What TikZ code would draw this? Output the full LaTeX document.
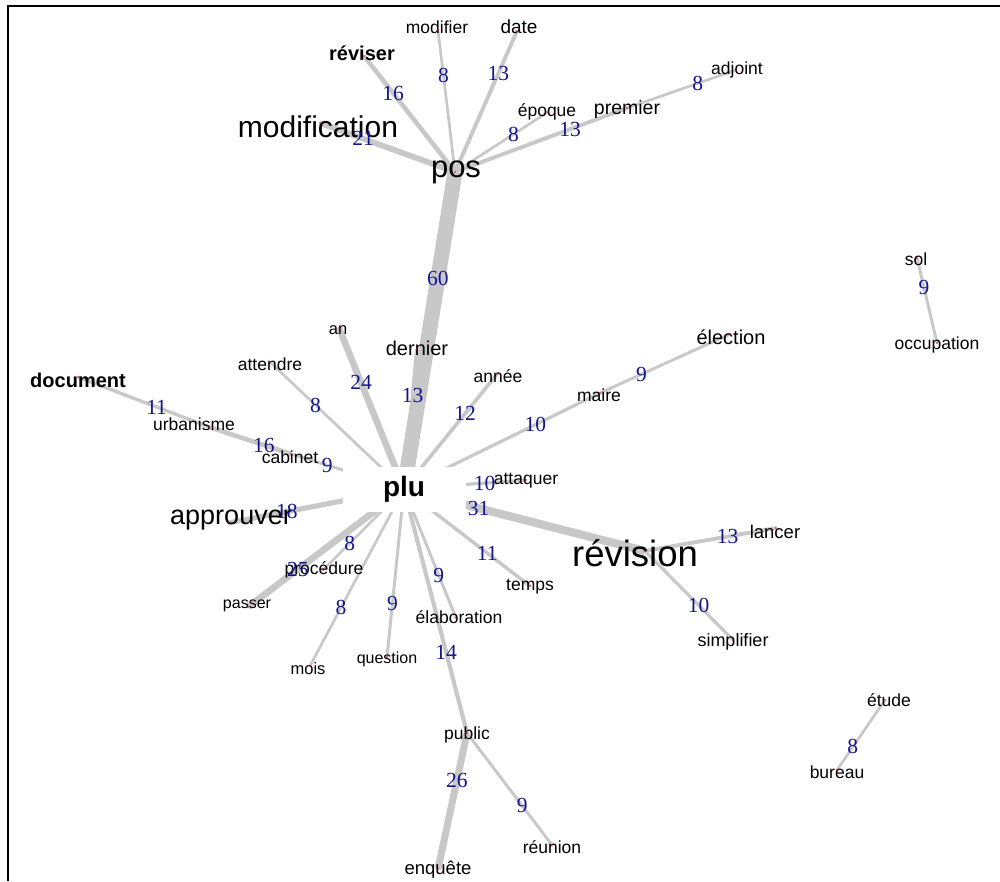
\documentclass[tikz,border=0pt]{standalone}
\usepackage{fontspec}
\setmainfont{Liberation Sans}
\newfontfamily\numfont{Liberation Serif}
\pgfdeclarelayer{edges}
\pgfdeclarelayer{dots}
\pgfsetlayers{edges,main,dots}
\definecolor{edgegray}{RGB}{200,200,200}
\definecolor{numblue}{RGB}{20,20,140}
\definecolor{dotred}{RGB}{225,0,0}
\tikzset{
  link/.style={draw=edgegray},
  num/.style={inner sep=0pt, text=numblue, font=\numfont\fontsize{21.5}{21.5}\selectfont},
  word/.style={inner sep=0pt, font=\fontsize{#1}{#1}\selectfont},
  wordb/.style={inner sep=0pt, font=\fontsize{#1}{#1}\selectfont\bfseries},
  dot/.style={circle, fill=dotred, inner sep=0pt, minimum size=1.6pt},
}
% #1 from, #2 to, #3 weight, #4 label position, #5 label
\newcommand\lnk[5]{%
  \begin{pgfonlayer}{edges}
    \draw[link, line width={#3/4.2+0.8}] (#1.center) -- (#2.center);
  \end{pgfonlayer}
  \path (#1.center) -- node[num, pos=#4] (w-#1-#2) {#5} (#2.center);
}
\begin{document}
\begin{tikzpicture}[x=1pt, y=-1pt]
\useasboundingbox (0,0) rectangle (1000,881);
% frame
\draw[line width=2pt] (8,881) -- (8,5.5) -- (1000,5.5);

% word positions (graph vertices)
\begin{pgfonlayer}{dots}
\node[dot] (pos) at (455,172) {};
\node[dot] (reviser) at (364,56) {};
\node[dot] (modifier) at (438,30) {};
\node[dot] (date) at (517,31) {};
\node[dot] (modification) at (320,123) {};
\node[dot] (epoque) at (548,112) {};
\node[dot] (premier) at (627,108) {};
\node[dot] (adjoint) at (736,70) {};
\node[dot] (an) at (339,328) {};
\node[dot] (dernier) at (417,349) {};
\node[dot] (attendre) at (270,362) {};
\node[dot] (annee) at (498,373) {};
\node[dot] (maire) at (600,393) {};
\node[dot] (election) at (730,334) {};
\node[dot] (attaquer) at (526,480) {};
\node[dot] (revision) at (645,551) {};
\node[dot] (cabinet) at (291,454) {};
\node[dot] (urbanisme) at (209,427) {};
\node[dot] (document) at (78,377) {};
\node[dot] (approuver) at (228,523) {};
\node[dot] (procedure) at (323,570) {};
\node[dot] (passer) at (248,607) {};
\node[dot] (mois) at (310,666) {};
\node[dot] (question) at (387,657) {};
\node[dot] (elaboration) at (456,618) {};
\node[dot] (public) at (467,733) {};
\node[dot] (temps) at (530,586) {};
\node[dot] (enquete) at (438,869) {};
\node[dot] (reunion) at (552,845) {};
\node[dot] (lancer) at (776,528) {};
\node[dot] (simplifier) at (733,640) {};
\node[dot] (etude) at (885,700) {};
\node[dot] (bureau) at (837,770) {};
\node[dot] (sol) at (917,258) {};
\node[dot] (occupation) at (937,343) {};
\end{pgfonlayer}

% central vertex on a white box
\node[fill=white, minimum width=123pt, minimum height=45pt, inner sep=0pt,
      font=\fontsize{28}{28}\selectfont\bfseries] (plu) at (404,489) {plu};

% vertex labels
\node[word=31] (pos-t) at (456,172) {pos};
\node[wordb=20] (reviser-t) at (362,53) {réviser};
\node[word=17.5] (modifier-t) at (437,27) {modifier};
\node[word=19] (date-t) at (519,27) {date};
\node[word=30] (modification-t) at (318,127) {modification};
\node[word=17.5] (epoque-t) at (547,112) {époque};
\node[word=19.5] (premier-t) at (627,109) {premier};
\node[word=17.5] (adjoint-t) at (737,70) {adjoint};
\node[word=16.5] (an-t) at (338,330) {an};
\node[word=20] (dernier-t) at (417,348) {dernier};
\node[word=17.5] (attendre-t) at (270,364) {attendre};
\node[word=17.5] (annee-t) at (498,376) {année};
\node[word=17.5] (maire-t) at (599,395) {maire};
\node[word=20] (election-t) at (731,337) {élection};
\node[word=17.5] (attaquer-t) at (526,481) {attaquer};
\node[word=36.5] (revision-t) at (635,553) {révision};
\node[word=17.5] (cabinet-t) at (290,457) {cabinet};
\node[word=17.5] (urbanisme-t) at (194,424) {urbanisme};
\node[wordb=20] (document-t) at (78,380) {document};
\node[word=27] (approuver-t) at (231,520) {approuver};
\node[word=17.5] (procedure-t) at (324,570) {procédure};
\node[word=16] (passer-t) at (247,606) {passer};
\node[word=16.5] (mois-t) at (308,669) {mois};
\node[word=16] (question-t) at (387,659) {question};
\node[word=17.5] (elaboration-t) at (459,617) {élaboration};
\node[word=17.5] (temps-t) at (530,587) {temps};
\node[word=17.5] (public-t) at (467,735) {public};
\node[word=17.5] (reunion-t) at (552,847) {réunion};
\node[word=18.5] (enquete-t) at (438,870) {enquête};
\node[word=18.5] (lancer-t) at (775,532) {lancer};
\node[word=18] (simplifier-t) at (733,642) {simplifier};
\node[word=17.5] (etude-t) at (889,700) {étude};
\node[word=17.5] (bureau-t) at (837,772) {bureau};
\node[word=17.5] (sol-t) at (916,259) {sol};
\node[word=17.5] (occupation-t) at (937,345) {occupation};

% co-occurrence links with their counts
\lnk{pos}{reviser}{16}{.68}{16}
\lnk{pos}{modifier}{8}{.68}{8}
\lnk{pos}{date}{13}{.70}{13}
\lnk{pos}{modification}{21}{.68}{21}
\lnk{pos}{epoque}{8}{.63}{8}
\lnk{pos}{premier}{13}{.67}{13}
\lnk{premier}{adjoint}{8}{.65}{8}
\lnk{plu}{pos}{60}{.665}{60}
\lnk{plu}{an}{24}{.66}{24}
\lnk{plu}{dernier}{13}{.67}{13}
\lnk{plu}{attendre}{8}{.66}{8}
\lnk{plu}{annee}{12}{.65}{12}
\lnk{plu}{maire}{10}{.67}{10}
\lnk{election}{maire}{9}{.68}{9}
\lnk{plu}{attaquer}{10}{.66}{10}
\lnk{revision}{plu}{31}{.69}{31}
\lnk{plu}{cabinet}{9}{.68}{9}
\lnk{urbanisme}{cabinet}{16}{.67}{16}
\lnk{document}{urbanisme}{11}{.60}{11}
\lnk{plu}{approuver}{18}{.665}{18}
\lnk{plu}{procedure}{8}{.67}{8}
\lnk{plu}{passer}{25}{.68}{25}
\lnk{plu}{mois}{8}{.67}{8}
\lnk{plu}{question}{9}{.68}{9}
\lnk{plu}{elaboration}{9}{.67}{9}
\lnk{plu}{public}{14}{.67}{14}
\lnk{plu}{temps}{11}{.66}{11}
\lnk{enquete}{public}{26}{.65}{26}
\lnk{public}{reunion}{9}{.65}{9}
\lnk{revision}{lancer}{13}{.63}{13}
\lnk{revision}{simplifier}{10}{.61}{10}
\lnk{etude}{bureau}{8}{.67}{8}
\lnk{occupation}{sol}{9}{.65}{9}
\end{tikzpicture}
\end{document}
